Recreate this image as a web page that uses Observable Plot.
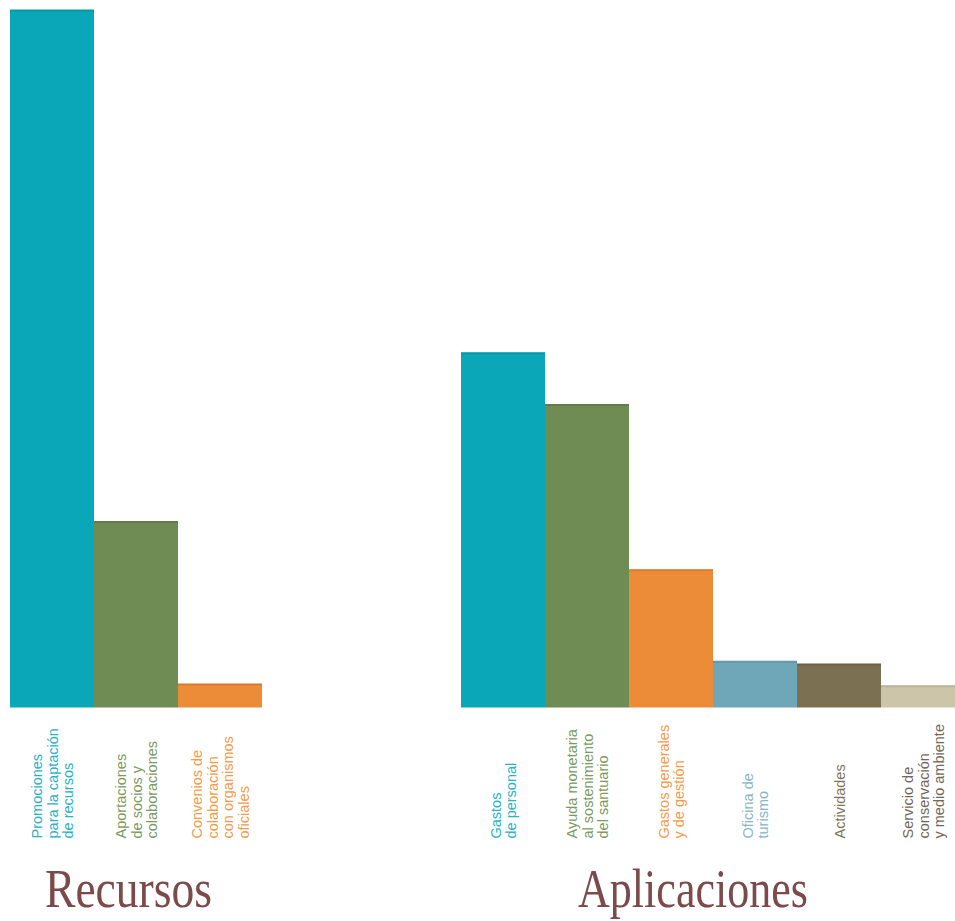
<!DOCTYPE html>
<html>
<head>
<meta charset="utf-8">
<script src="https://cdn.jsdelivr.net/npm/d3@7"></script>
<script src="https://cdn.jsdelivr.net/npm/@observablehq/plot@0.6"></script>
<style>
  html, body { margin: 0; padding: 0; background: #fff; overflow: hidden; }
  #wrap { position: relative; width: 955px; height: 921px; overflow: hidden; background: #fff; }
  #wrap svg { position: absolute; left: 0; top: 0; }
  .title {
    position: absolute; top: 862px; line-height: 1;
    font-family: "Liberation Serif", "DejaVu Serif", serif; font-size: 54px;
    color: #7d4a4b; transform-origin: 0 0; white-space: nowrap;
  }
</style>
</head>
<body>
<div id="wrap"></div>
<script>
// ---- Data (percent of total) ----
const recursosLabels = [
  "Promociones\npara la captación\nde recursos",
  "Aportaciones\nde socios y\ncolaboraciones",
  "Convenios de\ncolaboración\ncon organismos\noficiales"
];
const recursosValues = [76.9, 20.5, 2.6];

const aplicacionesLabels = [
  "Gastos\nde personal",
  "Ayuda monetaria\nal sostenimiento\ndel santuario",
  "Gastos generales\ny de gestión",
  "Oficina de\nturismo",
  "Actividades",
  "Servicio de\nconservación\ny medio ambiente"
];
const aplicacionesValues = [39.1, 33.4, 15.2, 5.1, 4.8, 2.4];

const groupTitles = ["Recursos", "Aplicaciones"];

// ---- Palettes ----
const recursosFill = ["#0aa7b9", "#6f8c55", "#ec8b38"];
const recursosEdge = ["#0897a8", "#627d4a", "#d97c2e"];
const recursosText = ["#25b3c6", "#7a9a62", "#f59a48"];
const aplicFill = ["#0aa7b9", "#6f8c55", "#ec8b38", "#6fa7b8", "#7b7052", "#cdc5aa"];
const aplicEdge = ["#0897a8", "#627d4a", "#d97c2e", "#6299aa", "#6c6246", "#bdb598"];
const aplicText = ["#25b3c6", "#7a9a62", "#f59a48", "#86b6c6", "#7f7458", "#72675a"];

const yMax = 76.9;

function chart(labels, values, fills, edges, texts, xRange) {
  const data = labels.map((label, i) => ({label, value: values[i], i}));
  return Plot.plot({
    width: 955,
    height: 921,
    marginTop: 10,
    marginBottom: 213.5,
    marginLeft: 0,
    marginRight: 0,
    style: {background: "transparent"},
    x: {domain: labels, range: xRange, padding: 0, axis: null},
    y: {domain: [0, yMax], axis: null},
    color: {domain: labels, range: fills},
    marks: [
      Plot.barY(data, {x: "label", y: "value", fill: "label"}),
      Plot.tickY(data, {x: "label", y: "value", stroke: d => edges[d.i], strokeWidth: 2}),
      Plot.text(data, {
        x: "label",
        text: "label",
        frameAnchor: "bottom",
        dy: 130.5,
        rotate: -90,
        textAnchor: "start",
        lineAnchor: "middle",
        lineHeight: 1.08,
        fontSize: 14.5,
        fontFamily: "'Liberation Sans', Arial, sans-serif",
        fill: d => texts[d.i]
      })
    ]
  });
}

const wrap = document.getElementById("wrap");
wrap.appendChild(chart(recursosLabels, recursosValues, recursosFill, recursosEdge, recursosText, [9.5, 263]));
wrap.appendChild(chart(aplicacionesLabels, aplicacionesValues, aplicFill, aplicEdge, aplicText, [461, 965]));

// Group titles
const titleLeft = [45, 578];
const titleWidth = [167, 230];
groupTitles.forEach((t, i) => {
  const d = document.createElement("div");
  d.className = "title";
  d.textContent = t;
  d.style.left = titleLeft[i] + "px";
  wrap.appendChild(d);
  const w = d.getBoundingClientRect().width;
  d.style.transform = `scaleX(${titleWidth[i] / w})`;
});
</script>
</body>
</html>
